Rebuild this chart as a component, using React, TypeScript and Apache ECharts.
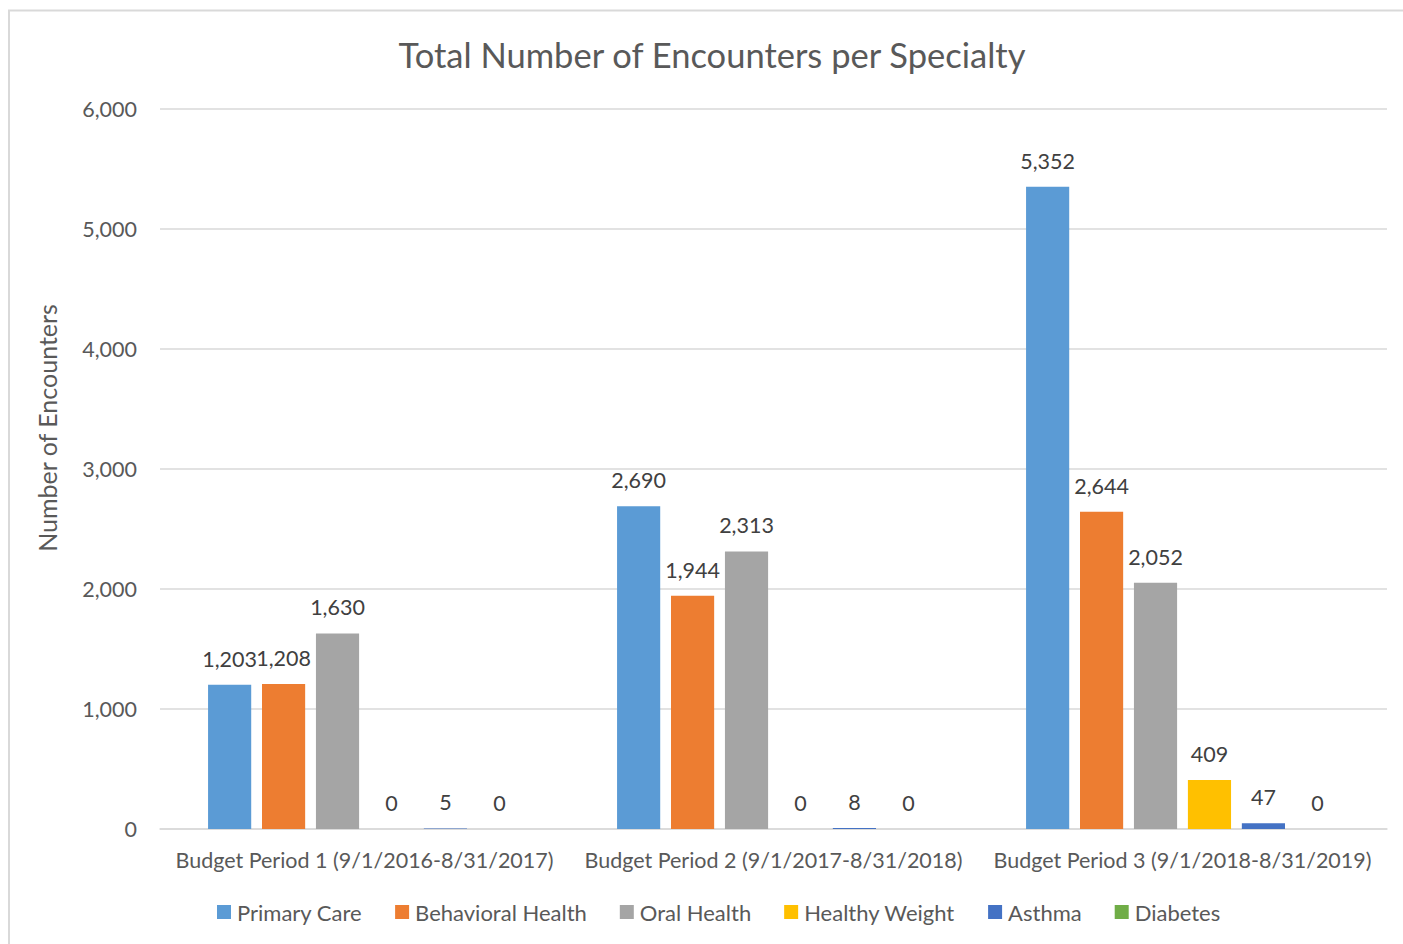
import React, { useEffect, useRef } from "react";
import * as echarts from "echarts";

const categories = [
  "Budget Period 1 (9/1/2016-8/31/2017)",
  "Budget Period 2 (9/1/2017-8/31/2018)",
  "Budget Period 3 (9/1/2018-8/31/2019)",
];

const primaryCare = [1203, 2690, 5352];
const behavioralHealth = [1208, 1944, 2644];
const oralHealth = [1630, 2313, 2052];
const healthyWeight = [0, 0, 409];
const asthma = [5, 8, 47];
const diabetes = [0, 0, 0];

const seriesDefs = [
  { name: "Primary Care", data: primaryCare, color: "#5B9BD5" },
  { name: "Behavioral Health", data: behavioralHealth, color: "#ED7D31" },
  { name: "Oral Health", data: oralHealth, color: "#A5A5A5" },
  { name: "Healthy Weight", data: healthyWeight, color: "#FFC000" },
  { name: "Asthma", data: asthma, color: "#4472C4" },
  { name: "Diabetes", data: diabetes, color: "#70AD47" },
];

const yTicks = { min: 0, max: 6000, interval: 1000 };

const FONT = "Lato";
const TEXT = "#595959";
const LABEL = "#404040";
const GRID = "#D9D9D9";

const fmt = (v: number) => Number(v).toLocaleString("en-US");

export default function App() {
  const ref = useRef<HTMLDivElement>(null);

  useEffect(() => {
    if (!ref.current) return;
    const chart = echarts.init(ref.current, null, { renderer: "svg" });
    chart.setOption({
      animation: false,
      backgroundColor: "#ffffff",
      textStyle: { fontFamily: FONT },
      title: {
        text: "Total Number of Encounters per Specialty",
        left: 707,
        top: 32,
        textAlign: "center",
        textStyle: { fontFamily: FONT, fontSize: 34.5, fontWeight: "normal", color: TEXT },
      },
      legend: {
        bottom: 16,
        left: 212,
        itemWidth: 14,
        itemHeight: 14,
        itemGap: 33,
        icon: "rect",
        textStyle: { fontFamily: FONT, fontSize: 22, color: TEXT, padding: [0, 0, 0, 1] },
        data: seriesDefs.map((s) => s.name),
      },
      grid: { left: 160, right: 16, top: 109, bottom: 115, containLabel: false },
      xAxis: {
        type: "category",
        data: categories,
        axisLine: { lineStyle: { color: GRID, width: 1.5 } },
        axisTick: { show: false },
        axisLabel: { fontFamily: FONT, fontSize: 21.5, color: TEXT, margin: 20, interval: 0 },
      },
      yAxis: {
        type: "value",
        min: yTicks.min,
        max: yTicks.max,
        interval: yTicks.interval,
        axisLine: { show: false },
        axisTick: { show: false },
        splitLine: { lineStyle: { color: GRID, width: 1.5 } },
        axisLabel: { fontFamily: FONT, fontSize: 21.5, color: TEXT, margin: 23, formatter: (v: number) => fmt(v) },
      },
      graphic: [
        {
          type: "rect",
          shape: { x: 9, y: 10.5, width: 1420, height: 960 },
          style: { fill: "none", stroke: GRID, lineWidth: 2 },
          silent: true,
        },
        {
          type: "text",
          x: 47,
          y: 428,
          rotation: Math.PI / 2,
          style: {
            text: "Number of Encounters",
            fontFamily: FONT,
            fontSize: 25,
            fill: TEXT,
            textAlign: "center",
            textVerticalAlign: "middle",
          },
        },
      ],
      series: seriesDefs.map((s) => ({
        name: s.name,
        type: "bar",
        data: s.data,
        barGap: "25%",
        barCategoryGap: "23.5%",
        itemStyle: { color: s.color },
        label: {
          show: true,
          position: "top",
          distance: 15,
          fontFamily: FONT,
          fontSize: 21.5,
          color: LABEL,
          formatter: (p: any) => fmt(p.value),
        },
      })),
    });
    return () => chart.dispose();
  }, []);

  return (
    <div
      ref={ref}
      style={{ position: "absolute", left: 0, top: 0, width: 1403, height: 944 }}
    />
  );
}
